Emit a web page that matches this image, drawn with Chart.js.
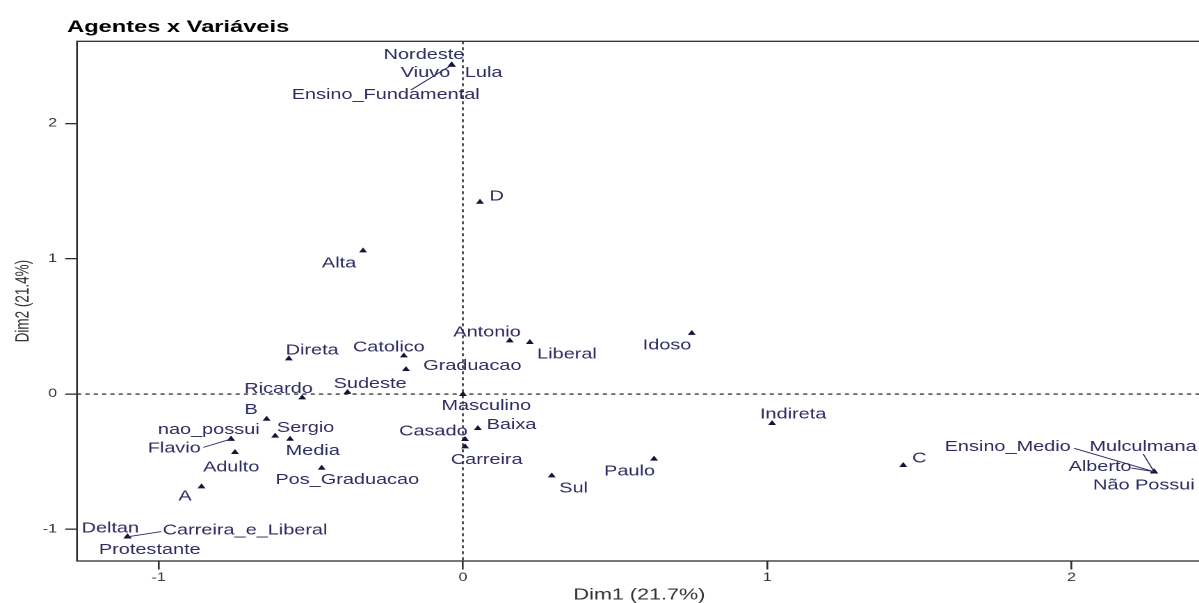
<!DOCTYPE html>
<html>
<head>
<meta charset="utf-8">
<script src="https://cdn.jsdelivr.net/npm/chart.js@4.4.1/dist/chart.umd.min.js"></script>
<style>
  html, body { margin: 0; padding: 0; background: #fff; overflow: hidden; width: 1199px; height: 603px; }
  /* the figure is laid out at 864px wide and shown widened to the page */
  #frame { position: absolute; left: 0; top: 0; width: 864px; height: 603px; transform: scaleX(1.391); transform-origin: 0 0; }
  canvas { display: block; }
</style>
</head>
<body>
<div id="frame"><canvas id="c" width="864" height="603"></canvas></div>
<script>
// MCA map: categories of the variables and the agents on the first two dimensions
const categories = [
  'Nordeste', 'Viuvo', 'Lula', 'Ensino_Fundamental',
  'D', 'Alta', 'Antonio', 'Liberal', 'Idoso',
  'Direta', 'Catolico', 'Graduacao', 'Sudeste', 'Ricardo', 'Masculino',
  'B', 'nao_possui', 'Flavio', 'Sergio', 'Media', 'Adulto', 'Pos_Graduacao', 'A',
  'Deltan', 'Carreira_e_Liberal', 'Protestante',
  'Casado', 'Baixa', 'Carreira', 'Sul', 'Paulo', 'Indireta', 'C',
  'Ensino_Medio', 'Mulculmana', 'Alberto', 'Não Possui'
];
const dim1 = [
  -0.037, -0.037, -0.037, -0.037,
  0.056, -0.328, 0.154, 0.220, 0.752,
  -0.572, -0.194, -0.187, -0.379, -0.528, 0.000,
  -0.645, -0.762, -0.762, -0.617, -0.568, -0.749, -0.464, -0.859,
  -1.102, -1.102, -1.102,
  0.007, 0.049, 0.007, 0.292, 0.628, 1.016, 1.447,
  2.271, 2.271, 2.271, 2.271
];
const dim2 = [
  2.432, 2.432, 2.432, 2.432,
  1.419, 1.059, 0.394, 0.382, 0.449,
  0.261, 0.283, 0.182, 0.013, -0.027, -0.002,
  -0.185, -0.333, -0.333, -0.310, -0.333, -0.431, -0.547, -0.685,
  -1.055, -1.055, -1.055,
  -0.335, -0.254, -0.389, -0.604, -0.480, -0.217, -0.527,
  -0.574, -0.574, -0.574, -0.574
];
const xTickValues = [-1, 0, 1, 2];
const yTickValues = [-1, 0, 1, 2];
const chartTitle = 'Agentes x Variáveis';
const xTitle = 'Dim1 (21.7%)';
const yTitle = 'Dim2 (21.4%)';

// label placement around each marker (px): [dx, dy] and optional leader start [lx, ly]
const labelPlacement = {
  'Nordeste': [-19.9, -10], 'Viuvo': [-18.8, 8.3], 'Lula': [23.0, 8],
  'Ensino_Fundamental': [-47.4, 30, -29.3, 25],
  'D': [12.0, -5.3], 'Alta': [-17.3, 12.6], 'Antonio': [-16.3, -8.4],
  'Liberal': [26.7, 12], 'Idoso': [-17.8, 12.4],
  'Direta': [16.8, -8.4], 'Catolico': [-10.8, -8], 'Graduacao': [47.7, -3.3],
  'Sudeste': [16.2, -8.3], 'Ricardo': [-17.0, -8.4], 'Masculino': [16.8, 11.7],
  'B': [-11.1, -9], 'nao_possui': [-16.0, -9], 'Flavio': [-40.8, 9.3, -19.9, 8.3],
  'Sergio': [21.9, -7.7], 'Media': [16.3, 12], 'Adulto': [-2.7, 15],
  'Pos_Graduacao': [18.4, 12], 'A': [-11.8, 10],
  'Deltan': [-12.4, -8.4], 'Carreira_e_Liberal': [84.5, -6, 24.3, -5.2], 'Protestante': [16.0, 13.3],
  'Casado': [-22.8, -7.6], 'Baixa': [24.2, -3.3], 'Carreira': [15.6, 13.6],
  'Sul': [15.7, 12.6], 'Paulo': [-17.6, 12.7], 'Indireta': [15.1, -9], 'C': [11.5, -6.6],
  'Ensino_Medio': [-105.2, -24.4, -57.5, -23.4], 'Mulculmana': [-7.9, -24.4, -7.8, -17.7],
  'Alberto': [-38.8, -4.4, -16.3, -3.7], 'Não Possui': [-7.3, 14]
};

const FONT = '"Liberation Sans", Arial, Helvetica, sans-serif';
const labelColor = '#2c2c62';
const markerColor = '#141438';
const axisColor = '#2e2e2e';

const biplotDecor = {
  id: 'biplotDecor',
  beforeDatasetsDraw(chart) {
    const { ctx, chartArea: a, scales: { x, y } } = chart;
    const x0 = x.getPixelForValue(0);
    const y0 = y.getPixelForValue(0);
    ctx.save();
    // reference lines through the origin
    ctx.strokeStyle = '#111';
    ctx.lineWidth = 1.1;
    ctx.setLineDash([3, 3]);
    ctx.beginPath();
    ctx.moveTo(x0, a.top); ctx.lineTo(x0, a.bottom);
    ctx.moveTo(a.left, y0); ctx.lineTo(a.right, y0);
    ctx.stroke();
    ctx.setLineDash([]);
    // plot frame
    ctx.strokeStyle = axisColor;
    ctx.lineWidth = 1.3;
    ctx.strokeRect(a.left, a.top, a.right - a.left, a.bottom - a.top);
    // title
    ctx.fillStyle = '#000';
    ctx.font = 'bold 17px ' + FONT;
    ctx.textAlign = 'left';
    ctx.textBaseline = 'alphabetic';
    ctx.fillText(chartTitle, 48.2, 32);
    ctx.restore();
  },
  afterDatasetsDraw(chart) {
    const { ctx } = chart;
    const meta = chart.getDatasetMeta(0);
    ctx.save();
    ctx.font = '14.3px ' + FONT;
    ctx.textAlign = 'center';
    ctx.textBaseline = 'middle';
    ctx.strokeStyle = labelColor;
    ctx.fillStyle = labelColor;
    ctx.lineWidth = 0.9;
    meta.data.forEach((pt, i) => {
      const name = categories[i];
      const p = labelPlacement[name];
      if (p.length > 2) {
        ctx.beginPath();
        ctx.moveTo(pt.x + p[2], pt.y + p[3]);
        ctx.lineTo(pt.x, pt.y);
        ctx.stroke();
      }
      ctx.fillText(name, pt.x + p[0], pt.y + p[1]);
    });
    ctx.restore();
  }
};

new Chart(document.getElementById('c'), {
  type: 'scatter',
  data: {
    datasets: [{
      label: 'categorias',
      data: dim1.map((v, i) => ({ x: v, y: dim2[i] })),
      pointStyle: 'triangle',
      pointRadius: 3.3,
      pointBackgroundColor: markerColor,
      pointBorderWidth: 0,
      showLine: false,
      clip: false
    }]
  },
  options: {
    responsive: false,
    animation: false,
    devicePixelRatio: 2,
    events: [],
    layout: { autoPadding: false, padding: { top: 41.3, left: 0, right: 0, bottom: 0 } },
    plugins: { legend: { display: false }, tooltip: { enabled: false }, title: { display: false } },
    scales: {
      x: {
        type: 'linear',
        min: -1.268,
        max: 2.428,
        afterFit: s => { s.height = 42; },
        afterBuildTicks: s => { s.ticks = xTickValues.map(v => ({ value: v })); },
        grid: { display: true, drawOnChartArea: false, drawTicks: true, tickLength: 8.5, color: axisColor, lineWidth: 1.3 },
        border: { display: false },
        ticks: { color: '#333', font: { family: FONT, size: 11.5 }, padding: 1.6, maxRotation: 0, autoSkip: false },
        title: { display: true, text: xTitle, color: '#333', font: { family: FONT, size: 15.5, lineHeight: 1 }, padding: { top: 0, bottom: 0 } }
      },
      y: {
        type: 'linear',
        min: -1.234,
        max: 2.607,
        afterFit: s => { s.width = 55.36; },
        afterBuildTicks: s => { s.ticks = yTickValues.map(v => ({ value: v })); },
        grid: { display: true, drawOnChartArea: false, drawTicks: true, tickLength: 8.5, color: axisColor, lineWidth: 1.3 },
        border: { display: false },
        ticks: { color: '#333', font: { family: FONT, size: 11.5 }, padding: 5.9, autoSkip: false },
        title: { display: true, text: yTitle, color: '#333', font: { family: FONT, size: 13.5, lineHeight: 1 }, padding: { top: 10.25, bottom: 0 } }
      }
    }
  },
  plugins: [biplotDecor]
});
</script>
</body>
</html>
